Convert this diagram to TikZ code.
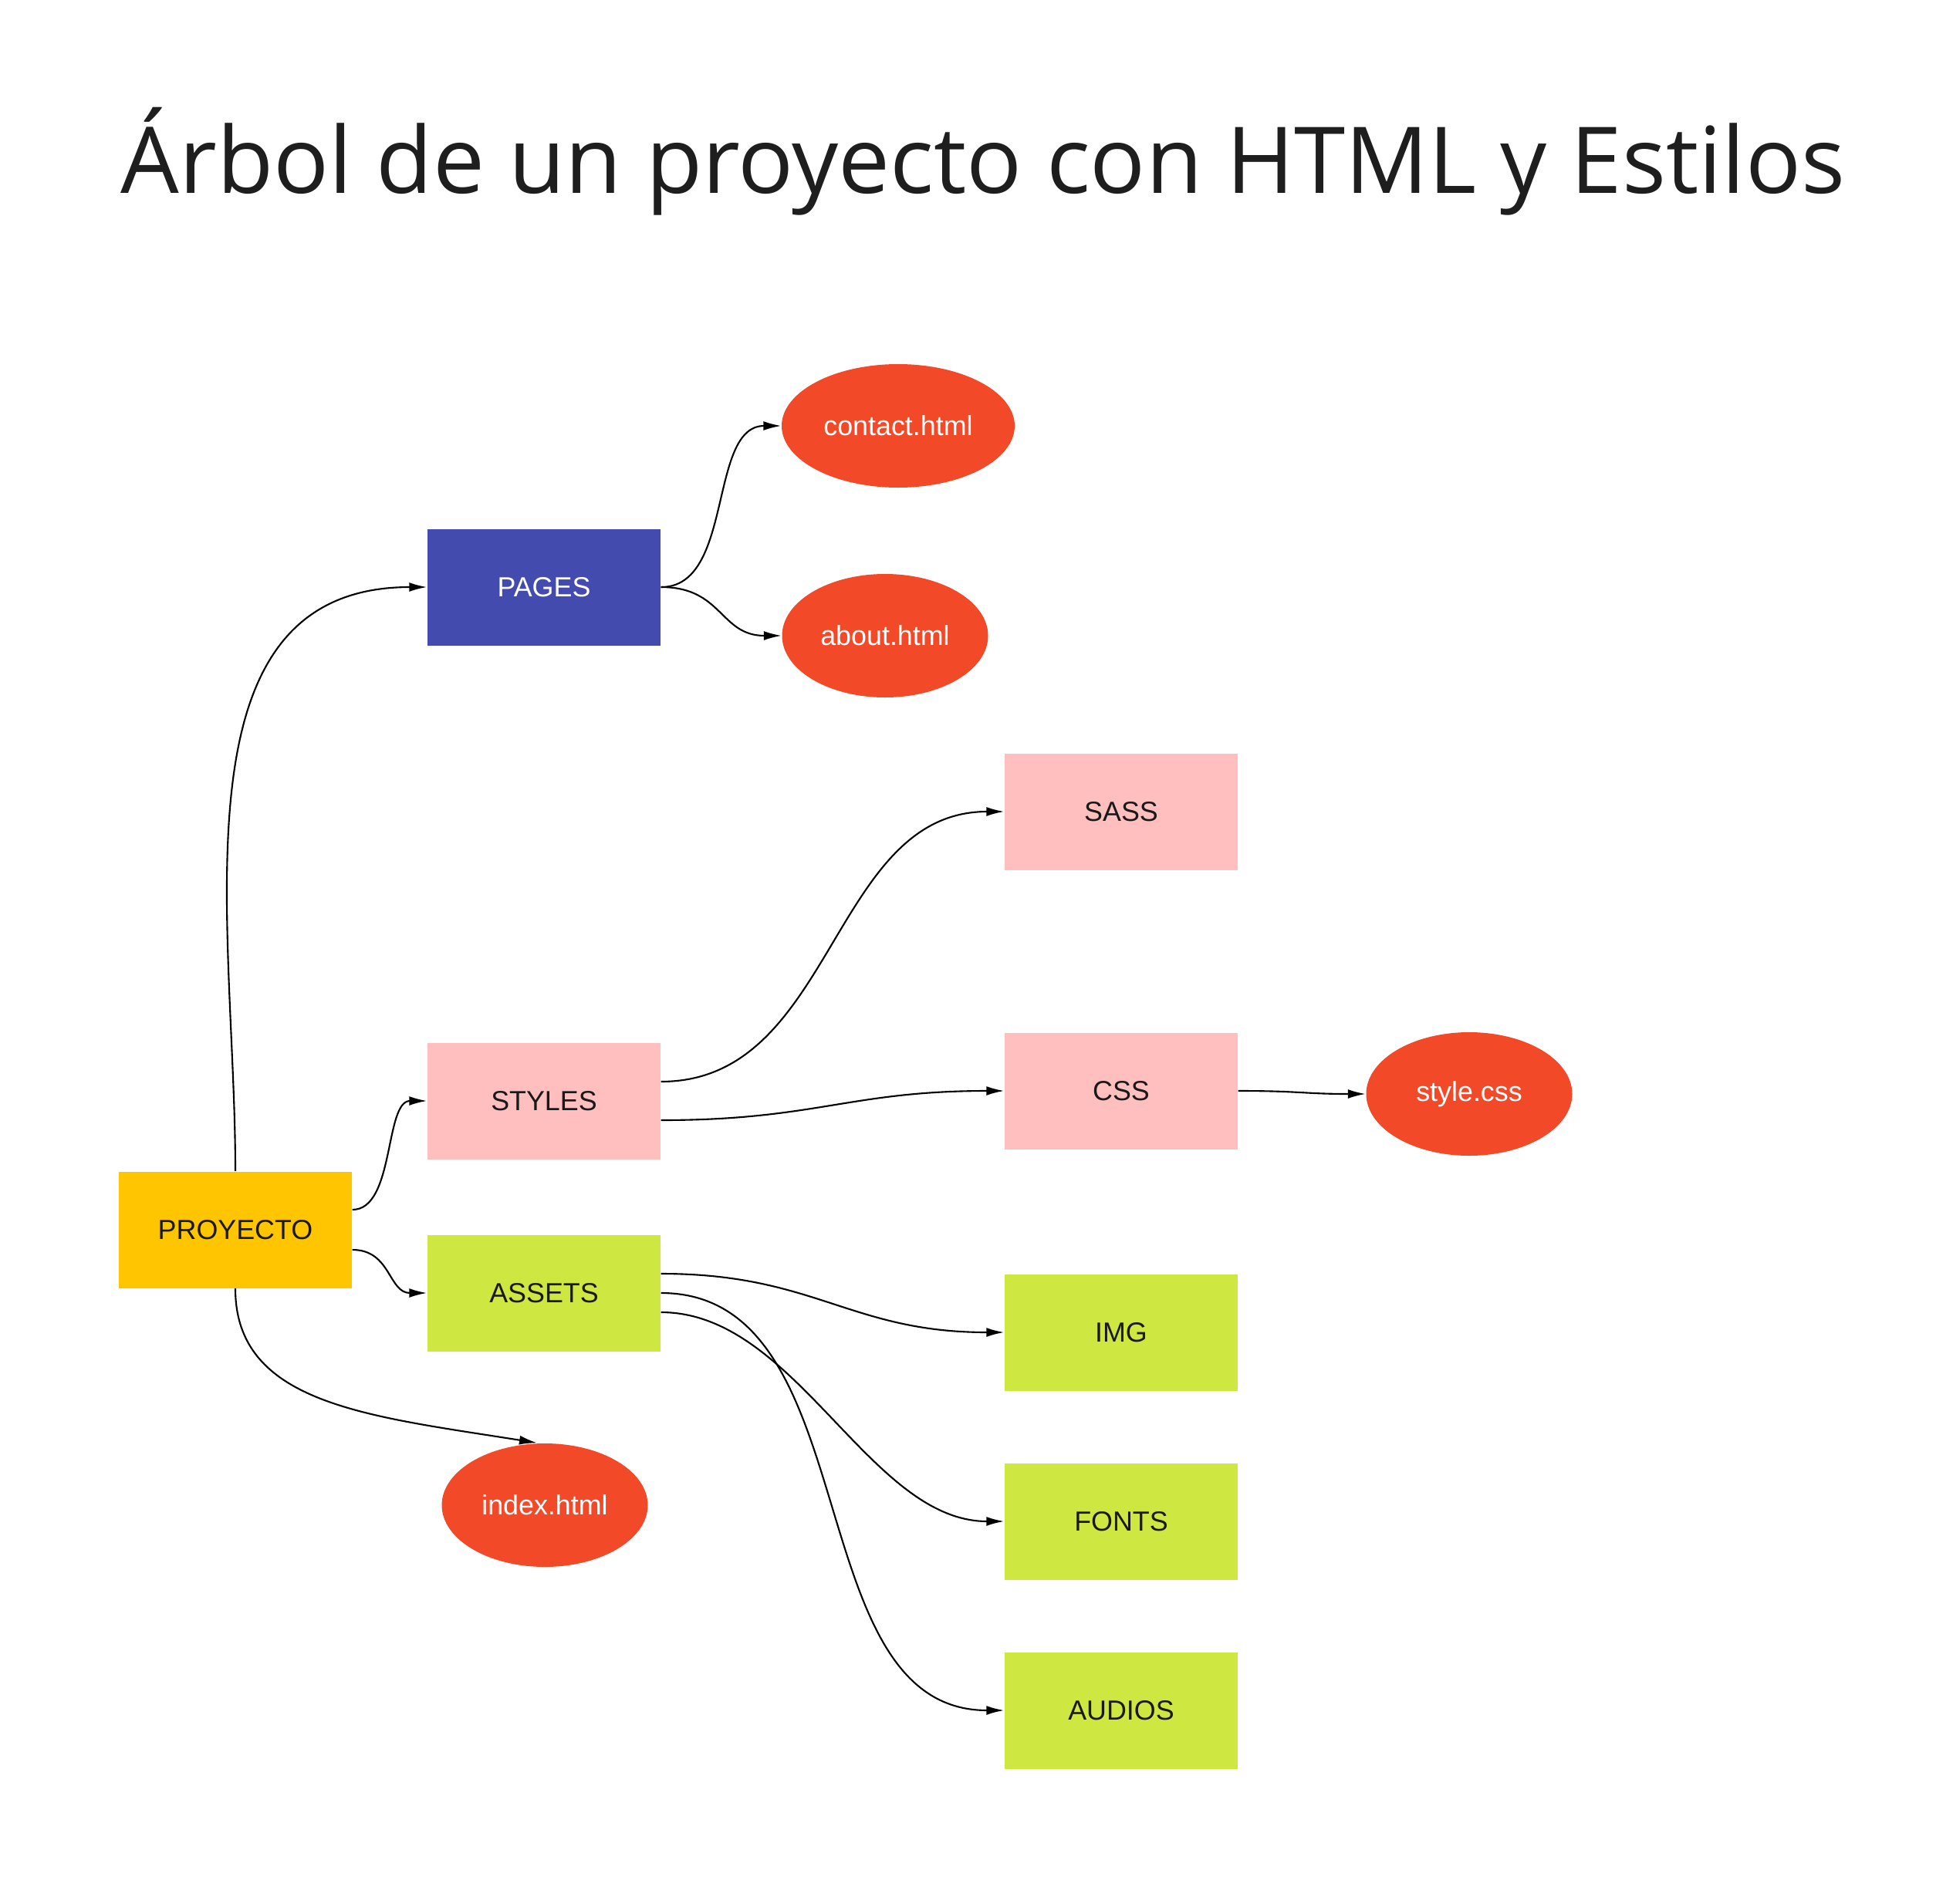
\documentclass[tikz,border=0pt]{standalone}
\usepackage{fontspec}
\setmainfont{Liberation Sans}
\newfontfamily\titlefont{Open Sans}
\usetikzlibrary{arrows.meta, positioning, shapes.geometric}

\definecolor{proyColor}{HTML}{FFC600}
\definecolor{pagesColor}{HTML}{434BAF}
\definecolor{pinkColor}{HTML}{FFBFBF}
\definecolor{greenColor}{HTML}{CEE741}
\definecolor{fileColor}{HTML}{F24A28}
\definecolor{titleColor}{HTML}{1E1E1E}

\begin{document}
\begin{tikzpicture}[
		folder/.style={rectangle, minimum width=3.02cm, minimum height=1.51cm, inner sep=0pt, text=black!90, font=\fontsize{10.2}{12}\selectfont},
		file/.style={ellipse, fill=fileColor, text=white, minimum width=2.67cm, minimum height=1.60cm, inner sep=0pt, font=\fontsize{10.2}{12}\selectfont},
		link/.style={-{Latex[length=2.3mm, width=1.2mm]}, line width=0.6pt}
	]
	\useasboundingbox (0,0) rectangle (25.31,-24.68);

	\node[anchor=base, text=titleColor, font=\titlefont\fontsize{34}{40}\selectfont] (title) at (12.74,-2.50) {Árbol de un proyecto con HTML y Estilos};

	% carpetas
	\node[folder, fill=proyColor] (proy) at (3.05,-15.94) {PROYECTO};
	\node[folder, fill=pagesColor, text=white] (pages) at (7.05,-7.61) {PAGES};
	\node[folder, fill=pinkColor] (styles) at (7.05,-14.27) {STYLES};
	\node[folder, fill=greenColor] (assets) at (7.05,-16.76) {ASSETS};
	\node[folder, fill=pinkColor] (sass) at (14.53,-10.52) {SASS};
	\node[folder, fill=pinkColor] (css) at (14.53,-14.14) {CSS};
	\node[folder, fill=greenColor] (img) at (14.53,-17.27) {IMG};
	\node[folder, fill=greenColor] (fonts) at (14.53,-19.72) {FONTS};
	\node[folder, fill=greenColor] (audios) at (14.53,-22.17) {AUDIOS};

	% archivos
	\node[file, minimum width=3.02cm] (contact) at (11.64,-5.52) {contact.html};
	\node[file] (about) at (11.47,-8.24) {about.html};
	\node[file] (index) at (7.06,-19.51) {index.html};
	\node[file] (stylecss) at (19.04,-14.18) {style.css};

	\draw[link] (proy.north) .. controls +(0,3.19) and +(-3.35,0) .. (pages.west);
	\draw[link] ([yshift=2.6mm]proy.east) .. controls +(0.55,0) and +(-0.55,0) .. (styles.west);
	\draw[link] ([yshift=-2.6mm]proy.east) .. controls +(0.5,0) and +(-0.5,0) .. (assets.west);
	\draw[link] (proy.south) .. controls +(0,-1.5) and +(-2.2,0.35) .. ([xshift=-1mm]index.north);

	\draw[link] (pages.east) .. controls +(0.95,0) and +(-0.95,0) .. (contact.west);
	\draw[link] (pages.east) .. controls +(0.8,0) and +(-0.8,0) .. (about.west);

	\draw[link] ([yshift=2.5mm]styles.east) .. controls +(2.25,0) and +(-2.25,0) .. (sass.west);
	\draw[link] ([yshift=-2.5mm]styles.east) .. controls +(2.0,0) and +(-2.0,0) .. (css.west);
	\draw[link] (css.east) .. controls +(0.8,0) and +(-0.8,0) .. (stylecss.west);

	\draw[link] ([yshift=2.5mm]assets.east) .. controls +(2.0,0) and +(-2.0,0) .. (img.west);
	\draw[link] (assets.east) .. controls +(2.7,0) and +(-2.7,0) .. (audios.west);
	\draw[link] ([yshift=-2.5mm]assets.east) .. controls +(1.75,0) and +(-1.75,0) .. (fonts.west);

\end{tikzpicture}
\end{document}
